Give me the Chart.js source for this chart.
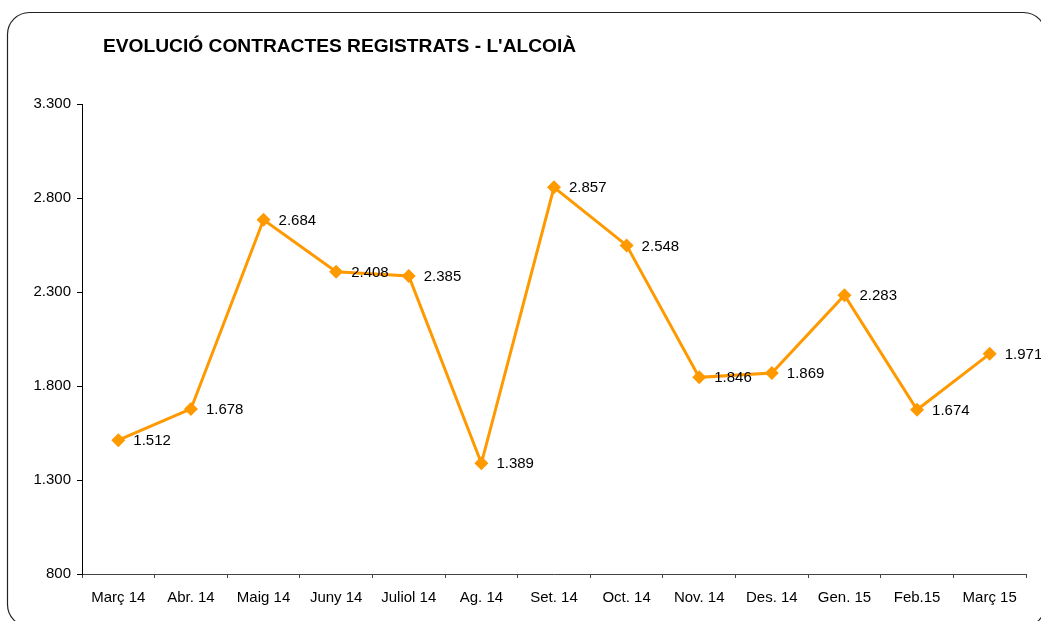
<!DOCTYPE html>
<html>
<head>
<meta charset="utf-8">
<script src="https://cdn.jsdelivr.net/npm/chart.js@4"></script>
<style>
  html, body { margin: 0; padding: 0; background: #fff; }
  #wrap { width: 1041px; height: 621px; }
</style>
</head>
<body>
<div id="wrap"><canvas id="chart" width="1041" height="621"></canvas></div>
<script>
// Monthly registered contracts, L'Alcoià
const months = ['Març 14', 'Abr. 14', 'Maig 14', 'Juny 14', 'Juliol 14', 'Ag. 14', 'Set. 14',
  'Oct. 14', 'Nov. 14', 'Des. 14', 'Gen. 15', 'Feb.15', 'Març 15'];
const contracts = [1512, 1678, 2684, 2408, 2385, 1389, 2857, 2548, 1846, 1869, 2283, 1674, 1971];
const yTicks = [800, 1300, 1800, 2300, 2800, 3300];
const chartTitle = "EVOLUCIÓ CONTRACTES REGISTRATS - L'ALCOIÀ";

const fontFamily = '"Liberation Sans", Arial, sans-serif';

// 1.512 style formatting
function fmt(v) {
  return v.toString().replace(/\B(?=(\d{3})+(?!\d))/g, '.');
}

// frame + title + value labels
const decor = {
  id: 'decor',
  beforeDraw(chart) {
    const ctx = chart.ctx;
    ctx.save();
    ctx.strokeStyle = '#222';
    ctx.lineWidth = 1.2;
    ctx.beginPath();
    ctx.roundRect(7.5, 12.5, 1038, 614, 22);
    ctx.stroke();
    ctx.fillStyle = '#000';
    ctx.font = 'bold 19.2px ' + fontFamily;
    ctx.textBaseline = 'middle';
    ctx.fillText(chartTitle, 103, 47);
    ctx.restore();
  },
  afterDatasetsDraw(chart) {
    const ctx = chart.ctx;
    const meta = chart.getDatasetMeta(0);
    ctx.save();
    ctx.fillStyle = '#000';
    ctx.font = '15px ' + fontFamily;
    ctx.textBaseline = 'middle';
    meta.data.forEach((pt, i) => {
      ctx.fillText(fmt(contracts[i]), pt.x + 15, pt.y + 1);
    });
    ctx.restore();
  }
};

new Chart(document.getElementById('chart'), {
  type: 'line',
  data: {
    labels: months,
    datasets: [{
      data: contracts,
      borderColor: '#FF9900',
      backgroundColor: '#FF9900',
      borderWidth: 3,
      pointStyle: 'rectRot',
      pointRadius: 7,
      pointHoverRadius: 7,
      pointBorderWidth: 0,
      tension: 0,
      fill: false
    }]
  },
  options: {
    responsive: false,
    animation: false,
    layout: { padding: { left: 0, right: 15, top: 104, bottom: 3 } },
    plugins: { legend: { display: false }, tooltip: { enabled: false } },
    scales: {
      x: {
        offset: true,
        grid: { offset: true, drawOnChartArea: false, drawTicks: true, tickLength: 4, color: '#444' },
        border: { color: '#444', width: 1 },
        ticks: { color: '#000', font: { family: fontFamily, size: 15 }, padding: 11, maxRotation: 0, autoSkip: false }
      },
      y: {
        min: 800,
        max: 3300,
        afterBuildTicks(axis) { axis.ticks = yTicks.map(v => ({ value: v })); },
        afterFit(axis) { axis.width = 82; },
        grid: { drawOnChartArea: false, drawTicks: true, tickLength: 5, color: '#000' },
        border: { color: '#000', width: 1 },
        ticks: { color: '#000', font: { family: fontFamily, size: 15 }, padding: 6, callback: v => fmt(v) }
      }
    }
  },
  plugins: [decor]
});
</script>
</body>
</html>
